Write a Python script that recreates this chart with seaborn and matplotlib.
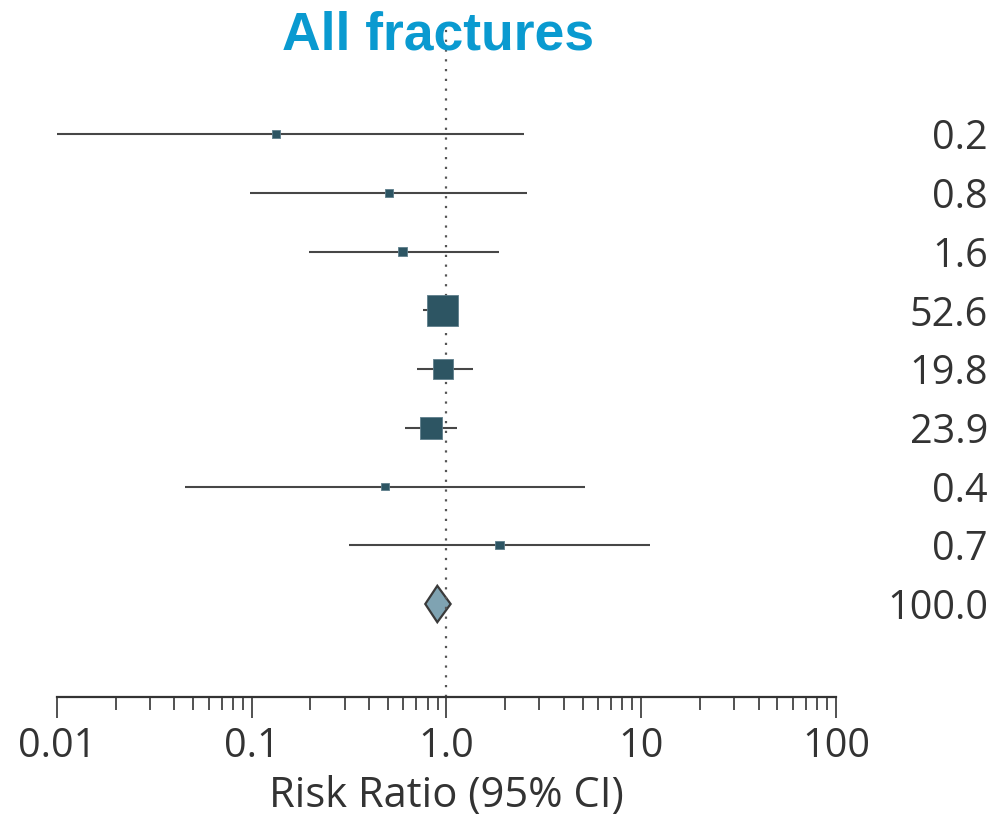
import numpy as np
import pandas as pd
import matplotlib
matplotlib.use("Agg")
import matplotlib.pyplot as plt
import matplotlib.transforms as mtransforms
from matplotlib.ticker import FixedLocator, NullFormatter
import seaborn as sns

# ---- data ----
rows = [0, 1, 2, 3, 4, 5, 6, 7]
rr = [0.133, 0.507, 0.596, 0.951, 0.962, 0.833, 0.483, 1.87]
ci_low = [0.01, 0.098, 0.196, 0.76, 0.703, 0.612, 0.0453, 0.316]
ci_high = [2.50, 2.58, 1.87, 1.12, 1.36, 1.137, 5.14, 11.1]
weights = [0.2, 0.8, 1.6, 52.6, 19.8, 23.9, 0.4, 0.7]
weight_labels = ["0.2", "0.8", "1.6", "52.6", "19.8", "23.9", "0.4", "0.7"]

pooled_row = 8
pooled_rr = 0.897
pooled_low = 0.778
pooled_high = 1.05
pooled_label = "100.0"

xticks = [0.01, 0.1, 1.0, 10, 100]
xtick_labels = ["0.01", "0.1", "1.0", "10", "100"]

# ---- style ----
sns.set_theme(style="white")
plt.rcParams["font.family"] = ["Open Sans", "DejaVu Sans"]

W, H = 1003, 816
fig = plt.figure(figsize=(W / 100, H / 100), dpi=100)
left, right = 57 / W, 836 / W
top_px, bot_px = 28, 697
ax = fig.add_axes([left, 1 - bot_px / H, right - left, (bot_px - top_px) / H])

row_px0, row_step = 134, 58.75
ax.set_xscale("log")
ax.set_xlim(0.01, 100)
ax.set_ylim((bot_px - row_px0) / row_step, (top_px - row_px0) / row_step)

df = pd.DataFrame({"row": rows, "rr": rr, "lo": ci_low, "hi": ci_high, "w": weights})

# reference line at 1
ax.axvline(1.0, color="#555555", lw=1.6, ls=(0, (1, 3.4)), zorder=2)

# pooled diamond
dh = 0.31
ax.fill([pooled_low, pooled_rr, pooled_high, pooled_rr],
        [pooled_row, pooled_row - dh, pooled_row, pooled_row + dh],
        facecolor="#7fa3b2", edgecolor="#3a3a3a", lw=1.6, zorder=1)

# CI lines
ax.hlines(df["row"], df["lo"], df["hi"], color="#474747", lw=1.5, zorder=3)

# squares: area proportional to weight (with a minimum)
side_px = np.sqrt(4.14 ** 2 * df["w"].to_numpy() + 55)
side_pt = side_px * 72 / 100
sns.scatterplot(data=df, x="rr", y="row", marker="s", s=side_pt ** 2,
                color="#2d5563", edgecolor="#5f7f8c", linewidth=0.6,
                legend=False, zorder=4, ax=ax)

# weight labels at right
trans = mtransforms.blended_transform_factory(fig.transFigure, ax.transData)
for r, lab in zip(rows + [pooled_row], weight_labels + [pooled_label]):
    ax.text(988 / W, r, lab, transform=trans, ha="right", va="center_baseline",
            fontsize=28.5, color="#333333", clip_on=False)

# axes styling
for s in ["left", "right", "top"]:
    ax.spines[s].set_visible(False)
ax.spines["bottom"].set_color("#333333")
ax.spines["bottom"].set_linewidth(1.6)
ax.set_yticks([])
ax.set_ylabel("")
ax.xaxis.set_major_locator(FixedLocator(xticks))
ax.set_xticklabels(xtick_labels)
minor = [m * 10.0 ** e for e in range(-2, 2) for m in range(2, 10)]
ax.xaxis.set_minor_locator(FixedLocator(minor))
ax.xaxis.set_minor_formatter(NullFormatter())
ax.tick_params(axis="x", which="major", direction="out", length=15, width=1.2,
               color="#333333", labelsize=28.5, labelcolor="#333333", pad=6, bottom=True)
ax.tick_params(axis="x", which="minor", direction="out", length=9, width=1.2,
               color="#333333", bottom=True)
ax.set_xlabel("Risk Ratio (95% CI)", fontsize=30, color="#333333", labelpad=6)

fig.text(438 / W, 1 - 50 / H, "All fractures", ha="center", va="baseline",
         fontsize=38.5, fontweight="bold", color="#0a9ad0",
         family=["Liberation Sans", "DejaVu Sans"])

fig.savefig("out.png", dpi=100, facecolor="white")
